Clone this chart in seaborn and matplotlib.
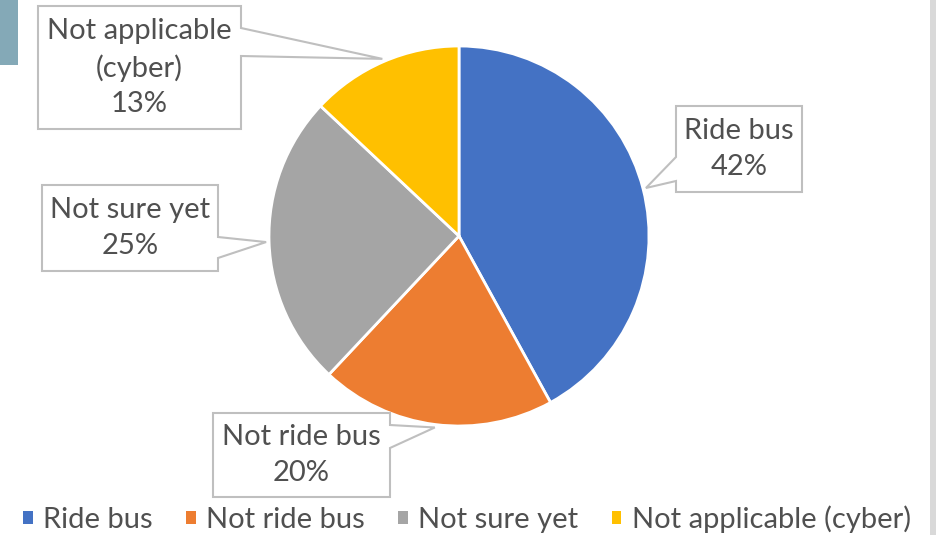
import matplotlib
matplotlib.use("Agg")
import matplotlib.pyplot as plt
import matplotlib.patches as mpatches
import numpy as np
import seaborn as sns

# --- Data ---
categories = ["Ride bus", "Not ride bus", "Not sure yet", "Not applicable (cyber)"]
callout_names = ["Ride bus", "Not ride bus", "Not sure yet", "Not applicable\n(cyber)"]
shares = [42, 20, 25, 13]
colors = ["#4472C4", "#ED7D31", "#A5A5A5", "#FFC000"]

# --- Layout (pixel coords, y measured from top) ---
W, H = 936, 535
CENTER = (459, 236)
RADIUS = 190
TEXT_COLOR = "#505050"
BOX_EDGE = "#BFBFBF"
FONT_SIZE = 21

# box (x0, y0, x1, y1), side the pointer leaves from, pointer base along that side
callout_boxes = [
    ((676, 106, 802, 192), "left", (157, 181)),
    ((213, 413, 390, 497), "right", (425, 448)),
    ((42, 185, 218, 271), "right", (237, 258)),
    ((38, 6, 241, 129), "right", (28, 56)),
]

sns.set_theme(style="white")
plt.rcParams["font.family"] = ["Lato", "DejaVu Sans"]


def fy(y):
    # flip top-down pixel y to data y
    return H - y


fig = plt.figure(figsize=(W / 100, H / 100), dpi=100)
ax = fig.add_axes([0, 0, 1, 1])

wedges, _ = ax.pie(shares, colors=colors, startangle=90, counterclock=False,
                   center=(CENTER[0], fy(CENTER[1])), radius=RADIUS,
                   wedgeprops=dict(edgecolor="white", linewidth=2))
ax.set_xlim(0, W)
ax.set_ylim(0, H)
ax.set_aspect("equal")
ax.axis("off")


def callout(box, side, base, tip, label):
    x0, y0, x1, y1 = box
    b0, b1 = base
    if side == "right":
        pts = [(x0, y0), (x1, y0), (x1, b0), tip, (x1, b1), (x1, y1), (x0, y1)]
    else:
        pts = [(x0, y0), (x1, y0), (x1, y1), (x0, y1), (x0, b1), tip, (x0, b0)]
    pts = [(px, fy(py)) for px, py in pts]
    poly = mpatches.Polygon(pts, closed=True, facecolor="white", edgecolor=BOX_EDGE,
                            linewidth=1.5, zorder=3)
    ax.add_patch(poly)
    ax.text((x0 + x1) / 2, fy((y0 + y1) / 2), label, ha="center", va="center",
            fontsize=FONT_SIZE, color=TEXT_COLOR, linespacing=1.45, zorder=4)


for w, (box, side, base), name, val in zip(wedges, callout_boxes, callout_names, shares):
    mid = np.deg2rad((w.theta1 + w.theta2) / 2)
    tip = (CENTER[0] + (RADIUS + 3) * np.cos(mid), CENTER[1] - (RADIUS + 3) * np.sin(mid))
    callout(box, side, base, tip, f"{name}\n{val}%")

# decorative slide elements
fig.patches.append(mpatches.Rectangle((0, 1 - 65 / H), 18 / W, 65 / H, transform=fig.transFigure,
                                      facecolor="#84A9B7", edgecolor="none"))
fig.patches.append(mpatches.Rectangle((930 / W, 0), 6 / W, 1, transform=fig.transFigure,
                                      facecolor="#D9D9D9", edgecolor="none"))

leg = fig.legend(wedges, categories, loc="center", bbox_to_anchor=(467 / W, 1 - 519 / H),
                 ncol=4, frameon=False, fontsize=FONT_SIZE, handlelength=0.33, handleheight=0.33,
                 handletextpad=0.35, columnspacing=1.15, labelcolor=TEXT_COLOR)
for h in leg.legend_handles:
    h.set_edgecolor("none")

fig.savefig("out.png", dpi=100, facecolor="white")
